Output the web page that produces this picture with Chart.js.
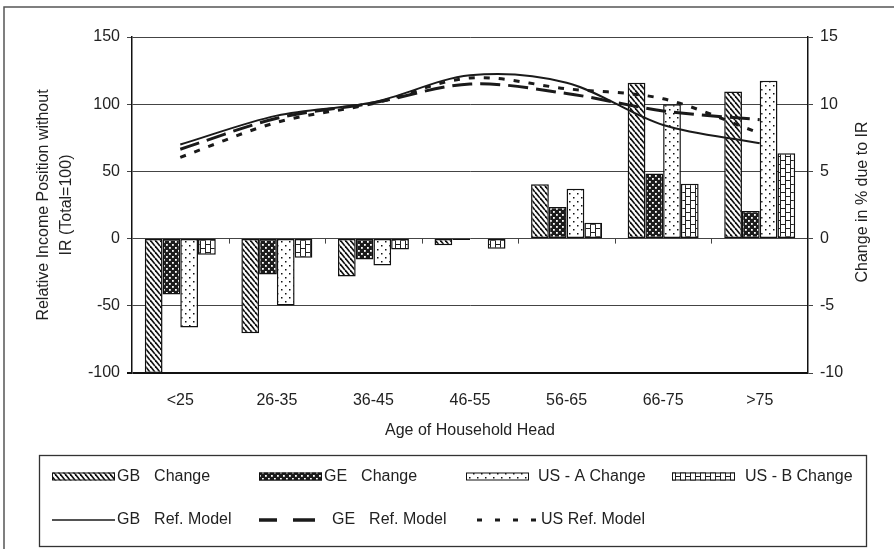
<!DOCTYPE html>
<html>
<head>
<meta charset="utf-8">
<script src="https://cdn.jsdelivr.net/npm/chart.js"></script>
<style>
html,body{margin:0;padding:0;background:#fff;}
#wrap{width:894px;height:549px;position:relative;}
canvas{display:block;}
</style>
</head>
<body>
<div id="wrap"><canvas id="c" width="894" height="549"></canvas></div>
<script>
// ---- data ----
const categories = ['<25', '26-35', '36-45', '46-55', '56-65', '66-75', '>75'];
// bars: change in % due to IR (right axis)
const gbChange  = [-10.0, -7.05, -2.82, -0.5, 4.05, 11.6, 10.95];
const geChange  = [-4.15, -2.68, -1.56, -0.1, 2.35, 4.85, 2.05];
const usAChange = [-6.62, -4.98, -2.0, 0, 3.7, 10.0, 11.75];
const usBChange = [-1.2, -1.42, -0.82, -0.75, 1.18, 4.08, 6.35];
// lines: relative income position without IR (left axis)
const gbRef = [70, 91.5, 101.5, 121.5, 116, 84.5, 71];
const geRef = [66.5, 89.5, 101, 115, 108, 95, 88.5];
const usRef = [60.5, 86.5, 100.5, 119.5, 111.5, 104, 78.5];
// tick labels
const leftTicks  = [-100, -50, 0, 50, 100, 150];
const rightTicks = [-10, -5, 0, 5, 10, 15];
// texts
const seriesLabels = ['GB  Change', 'GE  Change', 'US - A Change', 'US - B Change',
                      'GB  Ref. Model', 'GE  Ref. Model', 'US Ref. Model'];
const xTitle = 'Age of Household Head';
const leftTitle = ['Relative Income Position without', 'IR (Total=100)'];
const rightTitle = 'Change in % due to IR';

const FONT = "'Liberation Sans', Arial, Helvetica, sans-serif";
Chart.defaults.font.family = FONT;
Chart.defaults.color = '#222';

const mainCanvas = document.getElementById('c');
const mainCtx = mainCanvas.getContext('2d');

function makePattern(w, h, draw) {
  const t = document.createElement('canvas');
  t.width = w; t.height = h;
  const g = t.getContext('2d');
  draw(g, w, h);
  return mainCtx.createPattern(t, 'repeat');
}
const patGB = makePattern(5, 6, (g, w, h) => {
  g.fillStyle = '#fff'; g.fillRect(0, 0, w, h);
  g.strokeStyle = '#111'; g.lineWidth = 1.7;
  for (const k of [-5, 0, 5]) { g.beginPath(); g.moveTo(k, 0); g.lineTo(k + 5, 6); g.stroke(); }
});
const patGE = makePattern(6, 6, (g, w, h) => {
  g.fillStyle = '#1c1c1c'; g.fillRect(0, 0, w, h);
  g.fillStyle = '#fff';
  g.fillRect(1, 1, 1.8, 1.8); g.fillRect(4, 4, 1.8, 1.8);
});
const patUSA = makePattern(8, 8, (g, w, h) => {
  g.fillStyle = '#fff'; g.fillRect(0, 0, w, h);
  g.fillStyle = '#111';
  g.fillRect(1, 1, 1.5, 1.5); g.fillRect(5, 5, 1.5, 1.5);
});
const patUSB = makePattern(10, 8, (g, w, h) => {
  g.fillStyle = '#fff'; g.fillRect(0, 0, w, h);
  g.strokeStyle = '#222'; g.lineWidth = 1;
  g.beginPath();
  g.moveTo(0.5, 0); g.lineTo(0.5, 8);
  g.moveTo(5.5, 0); g.lineTo(5.5, 8);
  g.moveTo(0, 0.5); g.lineTo(5.5, 0.5);
  g.moveTo(5.5, 4.5); g.lineTo(10, 4.5);
  g.stroke();
});

function barDs(label, data, pat) {
  return { type: 'bar', label, data, yAxisID: 'y1', backgroundColor: pat,
           borderColor: '#111', borderWidth: 1.5, borderSkipped: false,
           categoryPercentage: 0.735, barPercentage: 1.0, order: 1 };
}
function lineDs(label, data, width, dash) {
  return { type: 'line', label, data, yAxisID: 'y', borderColor: '#1a1a1a',
           borderWidth: width, borderDash: dash, pointRadius: 0, fill: false,
           tension: 0.33, order: 0 };
}

const datasets = [
  barDs(seriesLabels[0], gbChange, patGB),
  barDs(seriesLabels[1], geChange, patGE),
  barDs(seriesLabels[2], usAChange, patUSA),
  barDs(seriesLabels[3], usBChange, patUSB),
  lineDs(seriesLabels[4], gbRef, 2, []),
  lineDs(seriesLabels[5], geRef, 3, [20, 8]),
  lineDs(seriesLabels[6], usRef, 3, [6, 9])
];

const decor = {
  id: 'decor',
  beforeDraw(chart) {
    const ctx = chart.ctx;
    ctx.save();
    ctx.fillStyle = '#fff';
    ctx.fillRect(0, 0, chart.width, chart.height);
    ctx.strokeStyle = '#555'; ctx.lineWidth = 1.5;
    ctx.beginPath();
    ctx.moveTo(4, chart.height + 5); ctx.lineTo(4, 7); ctx.lineTo(chart.width + 5, 7);
    ctx.stroke();
    ctx.restore();
  },
  beforeDatasetsDraw(chart) {
    const ctx = chart.ctx, xs = chart.scales.x, ys = chart.scales.y;
    const y0 = ys.getPixelForValue(0);
    ctx.save();
    ctx.strokeStyle = '#444'; ctx.lineWidth = 1;
    ctx.beginPath();
    for (let i = 0; i < categories.length - 1; i++) {
      const xb = Math.round((xs.getPixelForValue(i) + xs.getPixelForValue(i + 1)) / 2) + 0.5;
      ctx.moveTo(xb, y0); ctx.lineTo(xb, y0 + 5);
    }
    ctx.stroke();
    ctx.restore();
  },
  afterDraw(chart) {
    const ctx = chart.ctx;
    const ca = chart.chartArea;
    ctx.save();
    // right axis title (reads bottom to top)
    ctx.font = '16px ' + FONT;
    ctx.fillStyle = '#222';
    ctx.textAlign = 'center'; ctx.textBaseline = 'middle';
    ctx.translate(863, (ca.top + ca.bottom) / 2 - 3);
    ctx.rotate(-Math.PI / 2);
    ctx.fillText(rightTitle, 0, 0);
    ctx.restore();

    // legend box
    ctx.save();
    ctx.strokeStyle = '#333'; ctx.lineWidth = 1.3;
    ctx.strokeRect(39.5, 455.5, 827, 91);
    const cols = [52, 259, 466, 672];
    const row1 = 476.5, row2 = 520;
    ctx.font = '16px ' + FONT;
    ctx.fillStyle = '#222';
    ctx.textAlign = 'left'; ctx.textBaseline = 'middle';
    const ds = chart.data.datasets;
    const txtOff1 = [65, 65, 72, 73];
    // draws a label, widening the inner double space like the reference
    function label(text, x, y) {
      const parts = text.split('  ');
      if (parts.length === 2) {
        ctx.fillText(parts[0], x, y);
        const w = ctx.measureText(parts[0]).width;
        ctx.fillText(parts[1], x + w + 14, y);
      } else {
        ctx.fillText(text, x, y);
      }
    }
    for (let i = 0; i < 4; i++) {
      const x = cols[i];
      ctx.fillStyle = ds[i].backgroundColor;
      ctx.fillRect(x, row1 - 4, 63, 8);
      ctx.strokeStyle = '#111'; ctx.lineWidth = 1;
      ctx.strokeRect(x + 0.5, row1 - 3.5, 62, 7);
      ctx.fillStyle = '#222';
      label(ds[i].label, x + txtOff1[i], row1);
    }
    // row 2: lines
    ctx.strokeStyle = '#1a1a1a';
    // GB solid
    ctx.lineWidth = 1.5;
    ctx.beginPath(); ctx.moveTo(cols[0], row2); ctx.lineTo(cols[0] + 63, row2); ctx.stroke();
    label(ds[4].label, cols[0] + 65, row2);
    // GE dashed
    ctx.lineWidth = 3.5;
    ctx.beginPath();
    ctx.moveTo(cols[1], row2); ctx.lineTo(cols[1] + 18, row2);
    ctx.moveTo(cols[1] + 34, row2); ctx.lineTo(cols[1] + 56, row2);
    ctx.stroke();
    label(ds[5].label, cols[1] + 73, row2);
    // US dotted
    ctx.lineWidth = 3;
    ctx.beginPath();
    for (let k = 0; k < 4; k++) {
      const xs0 = cols[2] + 11 + k * 18;
      ctx.moveTo(xs0, row2); ctx.lineTo(xs0 + 5, row2);
    }
    ctx.stroke();
    label(ds[6].label, cols[2] + 75, row2);
    ctx.restore();
  }
};

new Chart(mainCanvas, {
  type: 'bar',
  data: { labels: categories, datasets },
  options: {
    responsive: false,
    animation: false,
    devicePixelRatio: 1,
    layout: { padding: { left: 0, right: 0, top: 37, bottom: 99 } },
    plugins: { legend: { display: false }, tooltip: { enabled: false } },
    scales: {
      x: {
        offset: true,
        grid: { display: false, drawTicks: false },
        border: { display: false },
        ticks: { font: { size: 16 }, color: '#222', padding: 18, maxRotation: 0 },
        title: { display: true, text: xTitle, font: { size: 16 }, color: '#222',
                 padding: { top: 0, bottom: 10 } },
        afterFit: s => { s.height = 77; }
      },
      y: {
        position: 'left', min: -100, max: 150,
        afterBuildTicks: s => { s.ticks = leftTicks.map(v => ({ value: v })); },
        ticks: { font: { size: 16 }, color: '#222', padding: 7 },
        grid: {
          color: c => (c.tick && c.tick.value === -100) ? '#111' : '#444',
          lineWidth: c => (c.tick && c.tick.value === -100) ? 2 : 1,
          tickLength: 5, drawTicks: true
        },
        border: { display: true, color: '#111', width: 1.5 },
        title: { display: true, text: leftTitle, font: { size: 16, lineHeight: 1.44 },
                 color: '#222', padding: { top: 32, bottom: 0 } },
        afterFit: s => { s.width = 132; }
      },
      y1: {
        position: 'right', min: -10, max: 15,
        afterBuildTicks: s => { s.ticks = rightTicks.map(v => ({ value: v })); },
        ticks: { font: { size: 16 }, color: '#222', padding: 7 },
        grid: { drawOnChartArea: false, tickLength: 5, color: '#444' },
        border: { display: true, color: '#111', width: 1.5 },
        afterFit: s => { s.width = 86; }
      }
    }
  },
  plugins: [decor]
});
</script>
</body>
</html>
